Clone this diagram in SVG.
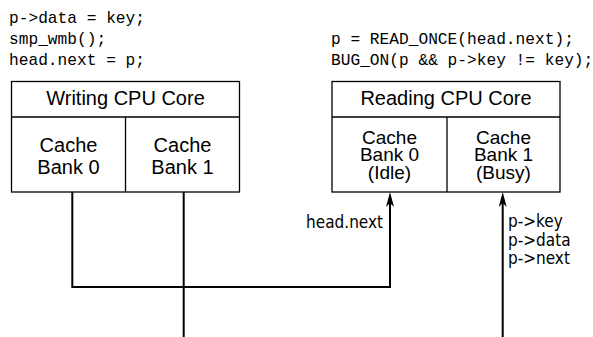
<svg xmlns="http://www.w3.org/2000/svg" width="593" height="337" viewBox="0 0 593 337">
<style>
.code{font-family:"Liberation Mono","DejaVu Sans Mono",monospace;font-size:16.2px;fill:#000}
.box{fill:#fff;stroke:#000;stroke-width:1.3}
.div{stroke:#000;stroke-width:1.3}
.lbl{font-family:"Liberation Sans",Arial,sans-serif;font-size:20px;fill:#000;text-anchor:middle}
.lbl3{font-family:"Liberation Sans",Arial,sans-serif;font-size:19px;fill:#000;text-anchor:middle}
.sm{font-family:"DejaVu Sans Condensed","DejaVu Sans",sans-serif;font-size:17px;fill:#000}
.conn{fill:none;stroke:#000;stroke-width:2}
</style>
<defs>
<marker id="arr" viewBox="0 0 15 8" markerWidth="15" markerHeight="8" refX="7" refY="4" orient="auto" markerUnits="userSpaceOnUse">
<path d="M15,4 L0,0 L4,4 L0,8 z" fill="#000"/>
</marker>
</defs>
<rect width="593" height="337" fill="#fff"/>
<g id="code-writer">
<text class="code" x="9" y="23">p-&gt;data = key;</text>
<text class="code" x="9" y="44">smp_wmb();</text>
<text class="code" x="9" y="65">head.next = p;</text>
</g>
<g id="code-reader">
<text class="code" x="331" y="44">p = READ_ONCE(head.next);</text>
<text class="code" x="331" y="65">BUG_ON(p &amp;&amp; p-&gt;key != key);</text>
</g>
<g id="writing-core">
<rect class="box" x="11.5" y="81.5" width="228" height="110.5"/>
<line class="div" x1="11.5" y1="117" x2="239.5" y2="117"/>
<line class="div" x1="125.5" y1="117" x2="125.5" y2="192"/>
<text class="lbl" x="125.5" y="105">Writing CPU Core</text>
<text class="lbl" x="68.5" y="152">Cache</text>
<text class="lbl" x="68.5" y="173.5">Bank 0</text>
<text class="lbl" x="182.5" y="152">Cache</text>
<text class="lbl" x="182.5" y="173.5">Bank 1</text>
</g>
<g id="reading-core">
<rect class="box" x="332" y="81.5" width="228" height="110.5"/>
<line class="div" x1="332" y1="117" x2="560" y2="117"/>
<line class="div" x1="447" y1="117" x2="447" y2="192"/>
<text class="lbl" x="446" y="105">Reading CPU Core</text>
<text class="lbl3" x="389.5" y="143.5">Cache</text>
<text class="lbl3" x="389.5" y="161">Bank 0</text>
<text class="lbl3" x="389.5" y="178.5">(Idle)</text>
<text class="lbl3" x="503.5" y="143.5">Cache</text>
<text class="lbl3" x="503.5" y="161">Bank 1</text>
<text class="lbl3" x="503.5" y="178.5">(Busy)</text>
</g>
<g id="connectors">
<polyline class="conn" points="72.3,192 72.3,287 390,287 390,200" marker-end="url(#arr)"/>
<line class="conn" x1="183.7" y1="192" x2="183.7" y2="337"/>
<line class="conn" x1="502.7" y1="337" x2="502.7" y2="200" marker-end="url(#arr)"/>
<text class="sm" x="383" y="228" text-anchor="end">head.next</text>
<text class="sm" x="508" y="227">p-&gt;key</text>
<text class="sm" x="508" y="245.5">p-&gt;data</text>
<text class="sm" x="508" y="264">p-&gt;next</text>
</g>
</svg>
